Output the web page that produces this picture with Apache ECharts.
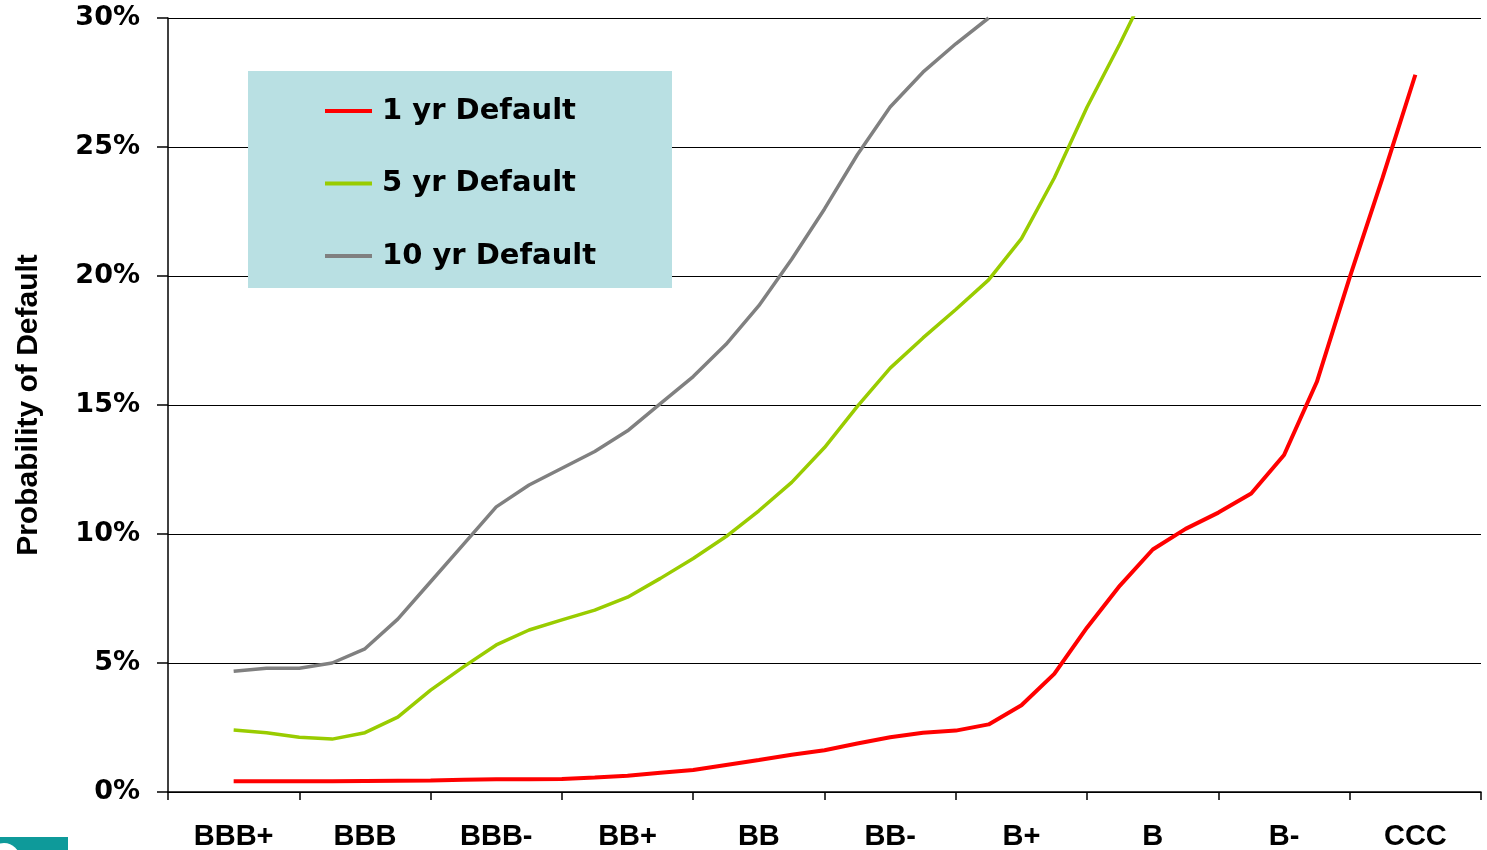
<!DOCTYPE html>
<html>
<head>
<meta charset="utf-8">
<title>Probability of Default by Rating</title>
<script src="https://cdn.jsdelivr.net/npm/echarts@6/dist/echarts.min.js"></script>
<style>
  html, body { margin: 0; padding: 0; background: #ffffff; }
  #chart { width: 1487px; height: 850px; }
</style>
</head>
<body>
<div id="chart"></div>
<script>
// Rating grades along the horizontal axis
const ratings = ['BBB+', 'BBB', 'BBB-', 'BB+', 'BB', 'BB-', 'B+', 'B', 'B-', 'CCC'];

// Position of each observation on the rating scale (grade centres at .5, with quarter-grade steps between)
const gradePos = [0.5, 0.75, 1, 1.25, 1.5, 1.75, 2, 2.25, 2.5, 2.75, 3, 3.25, 3.5, 3.75,
  4, 4.25, 4.5, 4.75, 5, 5.25, 5.5, 5.75, 6, 6.25, 6.5, 6.75, 7, 7.25, 7.5, 7.75,
  8, 8.25, 8.5, 8.75, 9, 9.25, 9.5];

// Cumulative default probability (%) by horizon
const oneYear = [0.42, 0.42, 0.42, 0.42, 0.43, 0.44, 0.45, 0.47, 0.49, 0.49, 0.5, 0.56, 0.63,
  0.75, 0.85, 1.05, 1.24, 1.44, 1.62, 1.88, 2.12, 2.3, 2.38, 2.62, 3.36, 4.58, 6.38, 8.0,
  9.4, 10.2, 10.83, 11.57, 13.06, 15.9, 19.95, 23.8, 27.8];
const fiveYear = [2.4, 2.3, 2.12, 2.05, 2.3, 2.9, 3.95, 4.85, 5.7, 6.28, 6.67, 7.05, 7.55,
  8.28, 9.05, 9.9, 10.9, 12.0, 13.35, 14.95, 16.43, 17.6, 18.7, 19.85, 21.45, 23.8, 26.55,
  29.0, 31.6];
const tenYear = [4.68, 4.8, 4.8, 5.0, 5.55, 6.7, 8.15, 9.6, 11.05, 11.9, 12.55, 13.2, 14.0,
  15.05, 16.1, 17.35, 18.85, 20.65, 22.6, 24.7, 26.55, 27.9, 29.0, 30.0];

const seriesNames = ['1 yr Default', '5 yr Default', '10 yr Default'];
const seriesColors = ['#ff0000', '#99cc00', '#808080'];

function pairs(values) {
  return values.map((v, i) => [gradePos[i], v]);
}

const chart = echarts.init(document.getElementById('chart'), null, { renderer: 'canvas' });

const option = {
  backgroundColor: '#ffffff',
  animation: false,
  grid: {
    left: 168, right: 6, top: 18, bottom: 58,
    containLabel: false, outerBoundsMode: 'none'
  },
  graphic: [
    {
      type: 'rect', z: 3,
      shape: { x: 248, y: 71, width: 424, height: 217 },
      style: { fill: '#b9e0e3' }
    },
    {
      type: 'rect', z: 3,
      shape: { x: 0, y: 837, width: 68, height: 13 },
      style: { fill: '#0e9a9a' }
    },
    {
      type: 'circle', z: 4,
      shape: { cx: 4, cy: 859, r: 16 },
      style: { fill: '#ffffff' }
    }
  ],
  legend: {
    orient: 'vertical',
    left: 325, top: 96,
    padding: 0,
    z: 5,
    icon: 'rect',
    itemWidth: 47, itemHeight: 4,
    itemGap: 42.5,
    data: seriesNames,
    textStyle: {
      fontFamily: 'DejaVu Sans', fontWeight: 'bold', fontSize: 29,
      lineHeight: 30, color: '#000000', padding: [0, 0, 0, 5]
    }
  },
  xAxis: [
    {
      type: 'category',
      data: ratings,
      boundaryGap: true,
      axisLine: { show: true, lineStyle: { color: '#000000', width: 1.5 } },
      axisTick: { show: true, length: 8, lineStyle: { color: '#000000', width: 1.5 } },
      splitLine: { show: false },
      axisLabel: {
        margin: 30,
        fontFamily: 'Liberation Sans', fontWeight: 'bold', fontSize: 29,
        color: '#000000', interval: 0
      }
    },
    {
      type: 'value',
      min: 0, max: 10,
      show: false
    }
  ],
  yAxis: {
    type: 'value',
    min: 0, max: 30, interval: 5,
    name: 'Probability of Default',
    nameLocation: 'middle',
    nameGap: 124,
    nameRotate: 90,
    nameTextStyle: {
      fontFamily: 'Liberation Sans', fontWeight: 'bold', fontSize: 30, color: '#000000'
    },
    axisLine: { show: true, lineStyle: { color: '#000000', width: 1.5 } },
    axisTick: { show: true, inside: false, length: 11, lineStyle: { color: '#000000', width: 1.5 } },
    splitLine: { show: true, lineStyle: { color: '#000000', width: 1.2 } },
    axisLabel: {
      margin: 28,
      formatter: '{value}%',
      fontFamily: 'DejaVu Sans', fontWeight: 'bold', fontSize: 27, color: '#000000'
    }
  },
  series: [
    { data: pairs(oneYear), width: 4 },
    { data: pairs(fiveYear), width: 3.5 },
    { data: pairs(tenYear), width: 3.5 }
  ].map((s, i) => ({
    name: seriesNames[i],
    type: 'line',
    xAxisIndex: 1,
    data: s.data,
    clip: true,
    smooth: false,
    showSymbol: false,
    symbol: 'none',
    z: 2,
    color: seriesColors[i],
    lineStyle: { color: seriesColors[i], width: s.width }
  }))
};

chart.setOption(option);
</script>
</body>
</html>
